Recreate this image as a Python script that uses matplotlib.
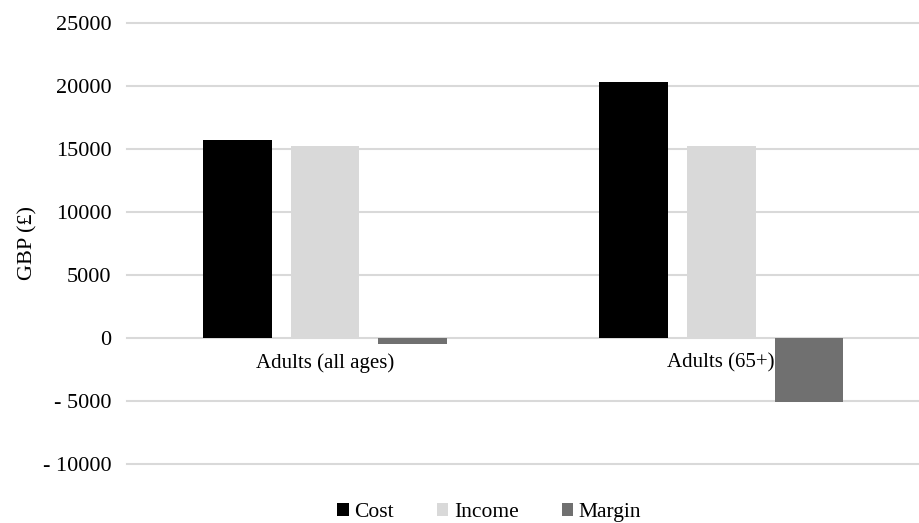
import numpy as np
import matplotlib.pyplot as plt

plt.rcParams['font.family'] = ['Liberation Serif', 'DejaVu Serif']

groups = ['Adults (all ages)', 'Adults (65+)']
series = ['Cost', 'Income', 'Margin']
cost = [15720, 20340]
income = [15250, 15250]
margin = [-470, -5090]
colors = ['#000000', '#d9d9d9', '#707070']

fig = plt.figure(figsize=(9.2, 5.23), dpi=100)
ax = fig.add_axes([0.138, 0.113, 0.861, 0.843])

x = np.arange(len(groups))
step = 0.222
width = 0.174
for k, (vals, name) in enumerate(zip([cost, income, margin], series)):
    ax.bar(x + (k - 1) * step, vals, width, color=colors[k], label=name, zorder=3)

ax.set_xlim(-0.5, 1.5)
ax.set_ylim(-10000, 25000)
ticks = np.arange(-10000, 25001, 5000)
ax.set_yticks(ticks)
ax.set_yticklabels([('- %d' % -t) if t < 0 else str(t) for t in ticks], fontsize=16)
ax.yaxis.grid(True, color='#d9d9d9', linewidth=1.5, zorder=0)
for l in ax.get_ygridlines():
    l.set_clip_on(False)
ax.tick_params(axis='y', length=0, pad=11)
ax.set_xticks([])
for s in ax.spines.values():
    s.set_visible(False)
ax.set_ylabel('GBP (£)', fontsize=16, labelpad=4)

for i, g in enumerate(groups):
    ax.annotate(g, (i, 0), xytext=(0, -11), textcoords='offset points',
                ha='center', va='top', fontsize=15, zorder=4)

fig.legend(loc='lower center', bbox_to_anchor=(489 / 920, -0.035), ncol=3,
           frameon=False, fontsize=15.5, handlelength=0.55, handleheight=0.55,
           handletextpad=0.25, columnspacing=2.0)

fig.savefig('out.png', dpi=100)
